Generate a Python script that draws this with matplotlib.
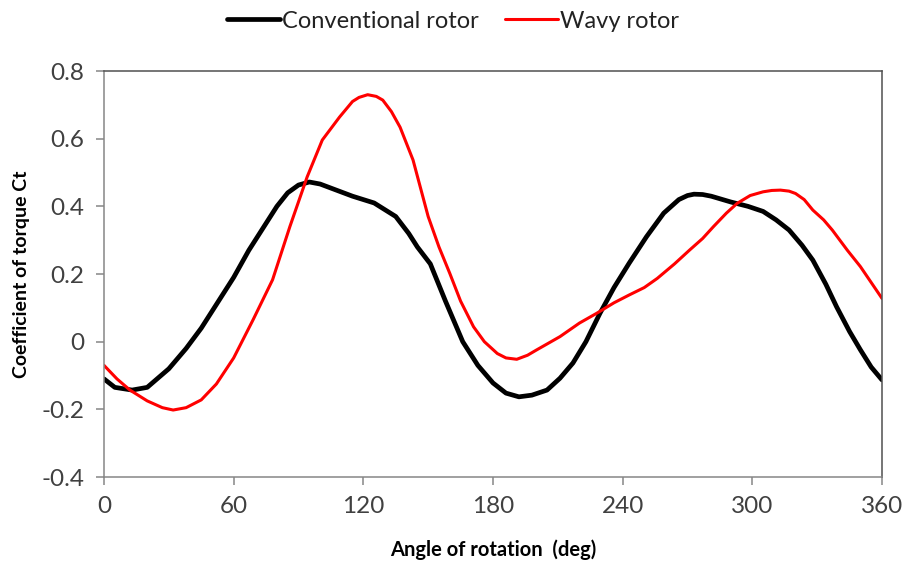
import matplotlib.pyplot as plt
from matplotlib.ticker import FormatStrFormatter

# Conventional rotor (angle in deg, Ct)
conv_angle = [0, 5, 13, 20, 30, 38, 45, 52, 60, 67, 75, 80, 85, 90, 95, 100, 105, 115, 125, 135,
              141, 145, 151, 158, 166, 173, 180, 186, 192, 198, 205, 211, 217, 223, 229.5, 236,
              243, 251, 259, 266, 270, 273, 277, 281, 290, 298, 305, 311, 317, 323, 328, 334, 339,
              345, 350, 355, 360]
conv_ct = [-0.11, -0.135, -0.143, -0.135, -0.08, -0.02, 0.04, 0.11, 0.19, 0.27, 0.35, 0.40, 0.44,
           0.463, 0.472, 0.466, 0.454, 0.43, 0.41, 0.37, 0.32, 0.28, 0.23, 0.12, 0.0, -0.07,
           -0.122, -0.152, -0.163, -0.158, -0.143, -0.108, -0.063, 0.0, 0.084, 0.16, 0.232, 0.31,
           0.38, 0.42, 0.432, 0.436, 0.435, 0.43, 0.413, 0.40, 0.385, 0.36, 0.33, 0.285, 0.241,
           0.17, 0.103, 0.03, -0.024, -0.075, -0.113]

# Wavy rotor
wavy_angle = [0, 6, 12, 20, 27, 32, 38, 45, 52, 60, 69, 78, 86, 94, 101, 109, 115, 118, 122, 126,
              129, 133, 137, 143, 150, 155, 160, 165, 171, 176, 182, 186, 191, 196, 200, 211, 220,
              228, 236, 243, 250, 256, 264, 271, 277, 282, 288, 293, 299, 305, 309, 313, 317, 320,
              324, 328, 333, 337, 344, 350, 355, 360]
wavy_ct = [-0.07, -0.11, -0.143, -0.175, -0.195, -0.202, -0.195, -0.172, -0.125, -0.048, 0.065,
           0.183, 0.34, 0.487, 0.596, 0.664, 0.71, 0.722, 0.73, 0.725, 0.714, 0.68, 0.634, 0.537,
           0.37, 0.28, 0.202, 0.12, 0.044, 0.0, -0.035, -0.048, -0.052, -0.04, -0.025, 0.015,
           0.055, 0.084, 0.115, 0.138, 0.16, 0.187, 0.23, 0.271, 0.305, 0.34, 0.38, 0.409, 0.432,
           0.443, 0.447, 0.448, 0.445, 0.438, 0.42, 0.389, 0.36, 0.33, 0.27, 0.222, 0.175, 0.128]

x_ticks = [0, 60, 120, 180, 240, 300, 360]
y_ticks = [-0.4, -0.2, 0, 0.2, 0.4, 0.6, 0.8]

plt.rcParams['font.family'] = ['Lato', 'DejaVu Sans']

fig = plt.figure(figsize=(9.06, 5.61), dpi=100)
ax = fig.add_axes([0.1148, 0.1497, 0.8587, 0.7237])

ax.plot(conv_angle, conv_ct, color='black', lw=3.4, label='Conventional rotor',
        solid_joinstyle='round', solid_capstyle='round')
ax.plot(wavy_angle, wavy_ct, color='#ff0000', lw=2.2, label='Wavy rotor',
        solid_joinstyle='round', solid_capstyle='round')

ax.set_xlim(0, 360)
ax.set_ylim(-0.4, 0.8)
ax.set_xticks(x_ticks)
ax.set_yticks(y_ticks)
ax.yaxis.set_major_formatter(FormatStrFormatter('%g'))

for s in ['left', 'bottom']:
    ax.spines[s].set_color('#868686')
for s in ['top', 'right']:
    ax.spines[s].set_color('#505050')
for s in ax.spines.values():
    s.set_linewidth(1.1)

ax.tick_params(direction='out', length=6, width=1.1, color='#868686',
               labelsize=17.5, labelcolor='#404040', pad=8)

ax.set_xlabel('Angle of rotation  (deg)', fontsize=14.5, fontweight='bold', labelpad=16)
ax.set_ylabel('Coefficient of torque Ct', fontsize=14, fontweight='bold', labelpad=8)

leg = ax.legend(loc='center', ncol=2, frameon=False, fontsize=17, handlelength=2.25,
                handletextpad=0.1, columnspacing=1.1,
                bbox_to_anchor=(453 / 906, 1 - 21 / 561), bbox_transform=fig.transFigure)
for t in leg.get_texts():
    t.set_color('#222222')

fig.savefig('out.png', dpi=100)
